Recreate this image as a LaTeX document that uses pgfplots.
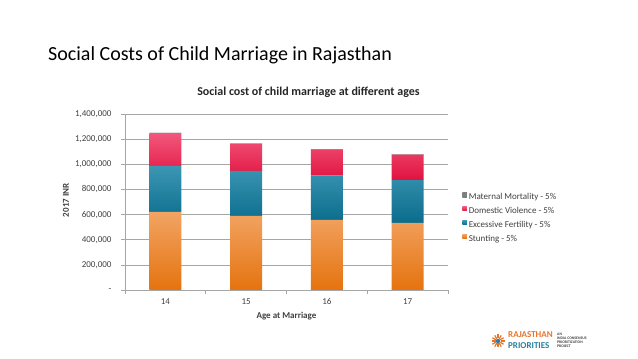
\documentclass[border=0pt]{standalone}
\usepackage{pgfplots}
\pgfplotsset{compat=1.18}
\usepackage{fontspec}
\setmainfont{Carlito}
\definecolor{orT}{HTML}{F2A463}
\definecolor{orB}{HTML}{E5730F}
\definecolor{teT}{HTML}{3C96B4}
\definecolor{teB}{HTML}{0A6C8C}
\definecolor{pkT}{HTML}{F2587C}
\definecolor{pkB}{HTML}{E0123F}
\definecolor{mmG}{HTML}{7F7F7F}
\definecolor{txt}{HTML}{404040}
\definecolor{logoO}{HTML}{E8742A}
\definecolor{logoB}{HTML}{2A7F9E}
\begin{document}
\begin{tikzpicture}[x=1pt,y=1pt]
\path[use as bounding box, fill=white] (0,0) rectangle (638,359);
\node[anchor=west, inner sep=0pt, font=\fontsize{20}{22}\selectfont] at (48,304) {Social Costs of Child Marriage in Rajasthan};
\begin{axis}[
  at={(125pt,69pt)}, anchor=south west,
  width=323pt, height=176pt, scale only axis,
  ybar stacked, bar width=32pt,
  xmin=-0.5, xmax=3.5, ymin=0, ymax=1400000,
  axis x line=bottom, axis y line=left,
  axis line style={-, draw=gray!70, line width=0.6pt},
  xtick={0,1,2,3}, xticklabels={14,15,16,17},
  minor xtick={-0.5,0.5,1.5,2.5,3.5},
  major x tick style={draw=none},
  minor x tick style={draw=gray!70, line width=0.6pt},
  minor tick length=4pt, major tick length=4pt,
  tick align=outside,
  ytick={0,200000,400000,600000,800000,1000000,1200000,1400000},
  yticklabels={{-},{200,000},{400,000},{600,000},{800,000},{1,000,000},{1,200,000},{1,400,000}},
  y tick style={draw=gray!70, line width=0.6pt},
  scaled y ticks=false,
  ymajorgrids, grid style={draw=gray!70, line width=0.5pt},
  tick label style={font=\fontsize{9}{10}\selectfont, text=txt},
  yticklabel style={xshift=-6pt},
  xticklabel style={yshift=-1pt},
  title={Social cost of child marriage at different ages},
  title style={font=\bfseries\fontsize{12}{13}\selectfont, text=black!85, at={(axis description cs:0.568,1.091)}, anchor=center},
  xlabel={Age at Marriage},
  xlabel style={font=\bfseries\fontsize{9}{10}\selectfont, text=txt, at={(axis description cs:0.5,-0.148)}, anchor=center},
  ylabel={2017 INR},
  ylabel style={font=\bfseries\fontsize{9}{10}\selectfont, text=txt, at={(axis description cs:-0.183,0.51)}, anchor=center},
  reverse legend,
  legend style={draw=none, fill=none, at={(1.044,0.56)}, anchor=north west,
    font=\fontsize{9}{10}\selectfont, text=txt, row sep=2.3pt, inner sep=0pt,
    nodes={text height=6pt, text depth=1.5pt}},
  legend cell align=left,
  legend image code/.code={\path[#1, draw=none] (0pt,0.3pt) rectangle (4.4pt,4.7pt);},
]
\addplot[draw=none, top color=orT, bottom color=orB] coordinates {(0,622000) (1,590000) (2,558000) (3,534000)};
\addlegendentry{Stunting - 5\%}
\addplot[draw=none, top color=teT, bottom color=teB] coordinates {(0,366000) (1,358000) (2,353000) (3,340000)};
\addlegendentry{Excessive Fertility - 5\%}
\addplot[draw=none, top color=pkT, bottom color=pkB] coordinates {(0,259000) (1,214000) (2,208000) (3,203000)};
\addlegendentry{Domestic Violence - 5\%}
\addplot[draw=none, fill=mmG, top color=mmG, bottom color=mmG] coordinates {(0,2000) (1,2000) (2,2000) (3,2000)};
\addlegendentry{Maternal Mortality - 5\%}
\end{axis}
% logo
\begin{scope}[shift={(498,18)}]
  \foreach \a in {0,30,...,330} {\draw[logoO, line width=1.2pt] (\a:2.5) -- (\a:6.5);}
  \fill[logoB] (0,0) circle (2.2);
\end{scope}
\node[anchor=west, inner sep=0pt, font=\bfseries\fontsize{9}{9}\selectfont, text=logoO] at (508,24) {RAJASTHAN};
\node[anchor=west, inner sep=0pt, font=\bfseries\fontsize{9}{9}\selectfont, text=logoB] at (508,13.5) {PRIORITIES};
\node[anchor=north west, inner sep=0pt, align=left, font=\bfseries\fontsize{3.8}{4.1}\selectfont, text=txt] at (557,26.5) {AN\\INDIA CONSENSUS\\PRIORITIZATION\\PROJECT};
\end{tikzpicture}
\end{document}
